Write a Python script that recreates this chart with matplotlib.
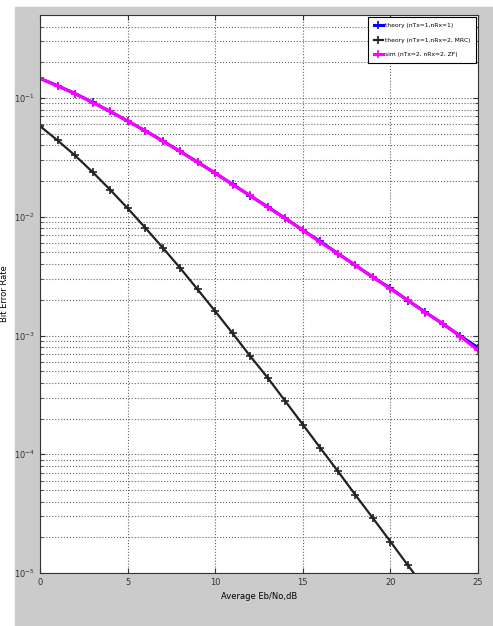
import matplotlib.pyplot as plt
import matplotlib.patches as patches
import numpy as np

# Eb/No in dB
ebno_db = list(range(0, 26))

# theory, nTx=1, nRx=1 (Rayleigh, no diversity)
ber_theory_1 = [0.146, 0.127, 0.109, 0.092, 0.077, 0.064, 0.053, 0.0435, 0.0355,
                0.0288, 0.0233, 0.0187, 0.0150, 0.0121, 0.0097, 0.0077, 0.0062,
                0.0049, 0.0039, 0.0031, 0.0025, 0.00197, 0.00157, 0.00125,
                0.00099, 0.00079]

# theory, nTx=1, nRx=2, MRC
ber_theory_mrc = [0.058, 0.044, 0.0328, 0.0238, 0.0169, 0.0118, 0.0081, 0.0055,
                  0.0037, 0.00244, 0.0016, 0.00104, 0.00067, 0.00044, 0.00028,
                  0.000178, 0.000113, 7.2e-05, 4.55e-05, 2.9e-05, 1.84e-05,
                  1.16e-05, 7.4e-06, 4.7e-06, 3.0e-06, 1.9e-06]

# sim, nTx=2, nRx=2, ZF
ber_sim_zf = [0.147, 0.126, 0.109, 0.0915, 0.0775, 0.0640, 0.0532, 0.0433, 0.0356,
              0.0287, 0.0234, 0.0186, 0.0151, 0.0120, 0.0097, 0.0077, 0.0061,
              0.0049, 0.0039, 0.0031, 0.00247, 0.00198, 0.00156, 0.00126,
              0.00098, 0.00075]

fig = plt.figure(figsize=(4.93, 6.26), dpi=100)
fig.patch.set_facecolor('white')
fig.patches.append(patches.Rectangle((15 / 493, 0), 1 - 15 / 493, 1 - 7 / 626,
                                     transform=fig.transFigure, color='#cbcbcb',
                                     zorder=-1))

ax = fig.add_axes([40 / 493, 1 - 573 / 626, 438 / 493, 558 / 626])
ax.set_facecolor('white')

ax.semilogy(ebno_db, ber_theory_1, 'b+-', lw=2.2, ms=6, mew=1.2,
            label='theory (nTx=1,nRx=1)')
ax.semilogy(ebno_db, ber_theory_mrc, '+-', color='#222222', lw=1.6, ms=6, mew=1.2,
            label='theory (nTx=1,nRx=2, MRC)')
ax.semilogy(ebno_db, ber_sim_zf, '+-', color='#ff00ff', lw=2.2, ms=6, mew=1.2,
            label='sim (nTx=2, nRx=2, ZF)')

ax.set_xlim(0, 25)
ax.set_ylim(1e-5, 0.5)
ax.set_xticks([0, 5, 10, 15, 20, 25])

ax.grid(True, which='major', axis='both', ls=':', color='#666666', lw=0.8)
ax.grid(True, which='minor', axis='y', ls=':', color='#666666', lw=0.8)
ax.tick_params(labelsize=6, direction='in', which='both', top=True, right=True,
               colors='#333333')
for s in ax.spines.values():
    s.set_color('#333333')

ax.set_xlabel('Average Eb/No,dB', fontsize=6)
ax.set_ylabel('Bit Error Rate', fontsize=6)

leg = ax.legend(loc='upper right', fancybox=False, fontsize=4.3,
                edgecolor='black', framealpha=1, handlelength=1.6,
                handletextpad=0.3, labelspacing=1.6, borderpad=0.9,
                borderaxespad=0.4)
leg.get_frame().set_linewidth(0.8)

fig.savefig('out.png', dpi=100)
